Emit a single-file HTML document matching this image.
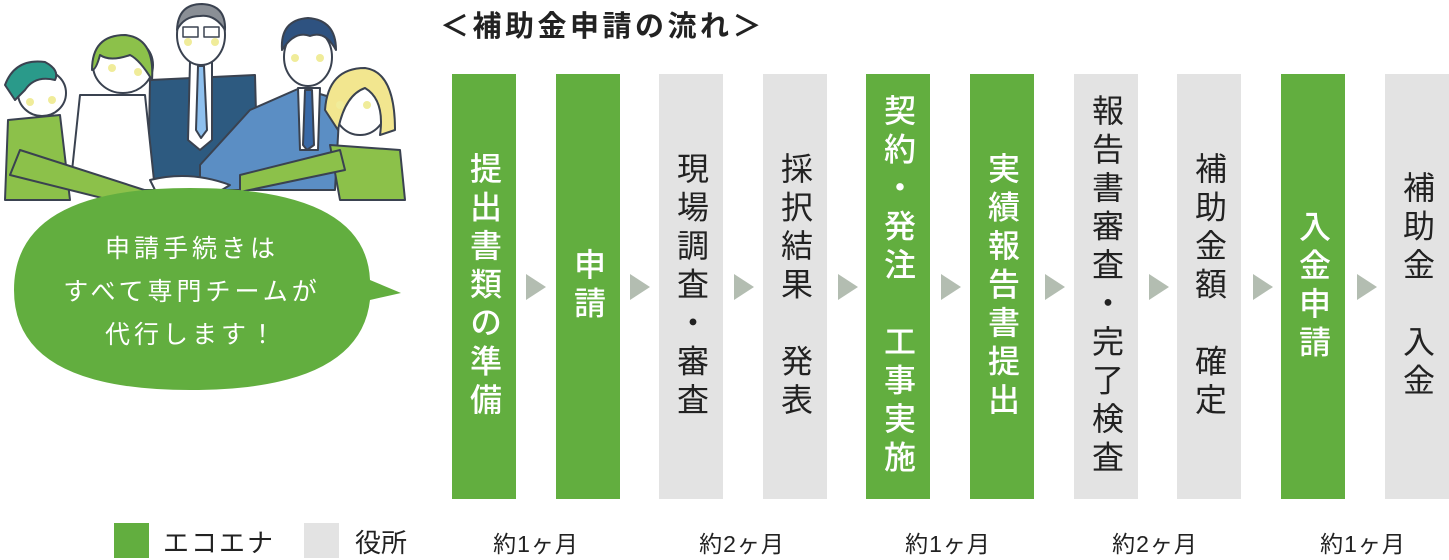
<!DOCTYPE html>
<html><head><meta charset="utf-8"><style>
body{margin:0;width:1449px;height:560px;background:#fff;position:relative;overflow:hidden;font-family:"Liberation Sans","Noto Sans CJK JP",sans-serif;}
.col{position:absolute;top:74px;width:64px;height:425px;display:flex;align-items:center;justify-content:center;}
.g{background:#62ae3f;color:#fff;}
.y{background:#e3e3e3;color:#222;}
.col span{writing-mode:vertical-rl;font-size:32px;line-height:64px;letter-spacing:6.5px;}
.g span{font-weight:500;}
.ar{position:absolute;top:274px;width:0;height:0;border-top:13px solid transparent;border-bottom:13px solid transparent;border-left:20px solid #b3bdb1;}
.lab{position:absolute;top:525px;font-size:23px;color:#222;width:200px;text-align:center;letter-spacing:1px;}
</style></head><body>
<div style="position:absolute;left:440px;top:3px;font-size:29px;font-weight:bold;color:#222;letter-spacing:3.5px;">＜補助金申請の流れ＞</div>

<svg style="position:absolute;left:0;top:0" width="420" height="400" viewBox="0 0 420 400">
<g stroke="#3a4250" stroke-width="2" stroke-linejoin="round">
<path d="M150 80 L255 75 L258 190 L148 190 Z" fill="#2d5a80"/>
<path d="M190 62 L212 62 L212 140 L200 150 L188 140 Z" fill="#fff"/>
<path d="M198 66 L204 66 L207 130 L201 138 L196 130 Z" fill="#8ec0ee"/>
<ellipse cx="201" cy="35" rx="24" ry="30" fill="#fff"/>
<path d="M177 30 Q178 4 202 4 Q226 5 225 30 Q215 14 200 16 Q184 16 177 30Z" fill="#8a8f96"/>
<rect x="183" y="27" width="15" height="10" fill="none" stroke-width="1.5"/><rect x="204" y="27" width="15" height="10" fill="none" stroke-width="1.5"/>
<path d="M250 110 L300 88 L340 100 L335 190 L200 190 L200 165 Z" fill="#5b8ec4"/>
<path d="M298 88 L320 88 L318 150 L300 150Z" fill="#fff"/>
<path d="M305 90 L312 90 L314 145 L307 150 L303 145Z" fill="#3a6aa8"/>
<ellipse cx="308" cy="57" rx="24" ry="29" fill="#fff"/>
<path d="M282 50 Q280 20 308 18 Q336 20 336 50 Q325 30 310 36 Q295 30 282 50Z" fill="#2e5280"/>
<path d="M80 95 L145 95 L155 190 L70 190 Z" fill="#fff"/>
<ellipse cx="123" cy="65" rx="30" ry="28" fill="#fff"/>
<path d="M92 70 Q92 35 125 35 Q155 38 152 80 Q140 60 130 55 Q110 62 100 55 Q96 70 92 70Z" fill="#8cc14a"/>
<path d="M8 120 L60 115 L70 200 L5 200 Z" fill="#8cc14a"/>
<ellipse cx="42" cy="93" rx="24" ry="23" fill="#fff"/>
<path d="M5 85 Q15 58 45 62 Q60 70 55 80 Q35 75 25 90 L15 100Z" fill="#2a9a8a"/>
<path d="M330 145 L400 150 L405 200 L340 200 Z" fill="#8cc14a"/>
<ellipse cx="360" cy="105" rx="27" ry="30" fill="#fff"/>
<path d="M325 110 Q328 68 365 68 Q395 72 395 130 L380 135 Q385 100 365 88 Q345 95 338 130Z" fill="#f2e68f"/>
<path d="M20 150 L160 195 L150 210 L10 175Z" fill="#8cc14a"/>
<path d="M240 175 L340 150 L345 170 L240 192Z" fill="#8cc14a"/>
<path d="M150 180 Q190 170 230 185 Q200 205 160 200Z" fill="#fff"/>
</g>
<g fill="#f0ec9a"><circle cx="30" cy="102" r="4"/><circle cx="52" cy="100" r="4"/><circle cx="112" cy="68" r="4"/><circle cx="138" cy="72" r="4"/><circle cx="188" cy="42" r="4"/><circle cx="215" cy="42" r="4"/><circle cx="295" cy="58" r="4"/><circle cx="320" cy="58" r="4"/><circle cx="340" cy="105" r="4"/><circle cx="367" cy="105" r="4"/></g>
<path d="M14 290 Q14 188 190 188 Q366 188 370 280 L401 293 L370 300 Q360 390 190 390 Q14 390 14 290Z" fill="#62ae3f"/>
<text fill="#fff" font-size="25" text-anchor="middle" font-family="Liberation Sans, Noto Sans CJK JP, sans-serif" letter-spacing="4">
<tspan x="192" y="257">申請手続きは</tspan><tspan x="192" y="300">すべて専門チームが</tspan><tspan x="192" y="343">代行します！</tspan></text>
</svg>

<div class="col g" style="left:452px"><span>提出書類の準備</span></div>
<div class="col g" style="left:556px"><span>申請</span></div>
<div class="col y" style="left:659px"><span>現場調査・審査</span></div>
<div class="col y" style="left:763px"><span>採択結果　発表</span></div>
<div class="col g" style="left:866px"><span>契約・発注　工事実施</span></div>
<div class="col g" style="left:970px"><span>実績報告書提出</span></div>
<div class="col y" style="left:1074px"><span>報告書審査・完了検査</span></div>
<div class="col y" style="left:1177px"><span>補助金額　確定</span></div>
<div class="col g" style="left:1281px"><span>入金申請</span></div>
<div class="col y" style="left:1385px"><span>補助金　入金</span></div>

<div class="ar" style="left:526px"></div>
<div class="ar" style="left:630px"></div>
<div class="ar" style="left:734px"></div>
<div class="ar" style="left:838px"></div>
<div class="ar" style="left:941px"></div>
<div class="ar" style="left:1045px"></div>
<div class="ar" style="left:1149px"></div>
<div class="ar" style="left:1253px"></div>
<div class="ar" style="left:1357px"></div>

<div style="position:absolute;left:114px;top:523px;width:35px;height:35px;background:#62ae3f"></div>
<div style="position:absolute;left:163px;top:523px;font-size:26px;color:#222;letter-spacing:2px">エコエナ</div>
<div style="position:absolute;left:304px;top:523px;width:35px;height:35px;background:#e3e3e3"></div>
<div style="position:absolute;left:355px;top:523px;font-size:26px;color:#222">役所</div>

<div class="lab" style="left:436px">約1ヶ月</div>
<div class="lab" style="left:642px">約2ヶ月</div>
<div class="lab" style="left:848px">約1ヶ月</div>
<div class="lab" style="left:1055px">約2ヶ月</div>
<div class="lab" style="left:1263px">約1ヶ月</div>
</body></html>
